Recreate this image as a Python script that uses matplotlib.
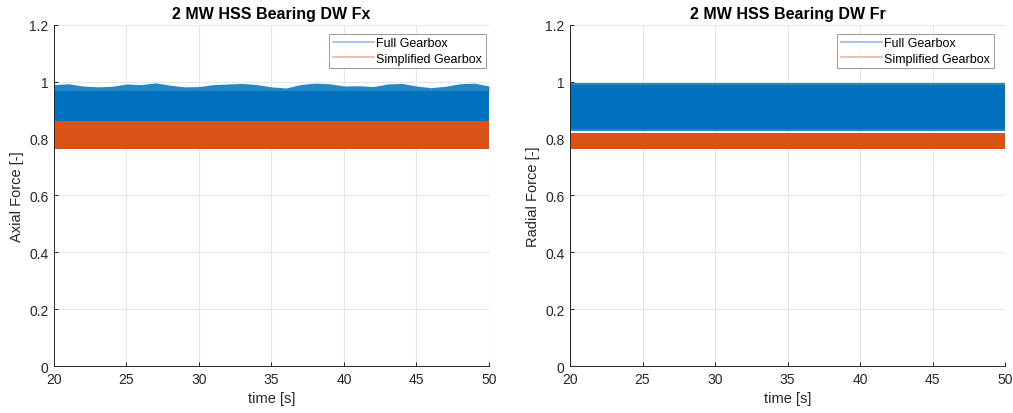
import matplotlib
matplotlib.use("Agg")
import matplotlib.pyplot as plt
from matplotlib.lines import Line2D

plt.rcParams['font.family'] = ['Liberation Sans', 'DejaVu Sans']

# envelope of the dense signals, read once per second
t_env = list(range(20, 51))

# left plot (axial force)
fx_full_peak = [0.990, 0.993, 0.985, 0.982, 0.984, 0.992, 0.990, 0.996, 0.988, 0.982,
                0.983, 0.990, 0.992, 0.994, 0.990, 0.982, 0.978, 0.990, 0.995, 0.993,
                0.985, 0.986, 0.983, 0.992, 0.994, 0.985, 0.979, 0.984, 0.993, 0.995, 0.985]
fx_full_solid = 0.968
fx_full_low = 0.862
fx_simp_high = 0.862
fx_simp_low = 0.762

# right plot (radial force)
fr_full_peak = 0.995
fr_full_solid = 0.988
fr_full_fuzz = 0.832
fr_full_low = 0.826
fr_simp_high = 0.821
fr_simp_low = 0.763

x_ticks = [20, 25, 30, 35, 40, 45, 50]
y_ticks = [0, 0.2, 0.4, 0.6, 0.8, 1.0, 1.2]

BLUE = '#0072BD'
ORANGE = '#D95319'
DARK = '#262626'

fig = plt.figure(figsize=(10.13, 4.14), dpi=100)
ax1 = fig.add_axes([0.0533, 0.1135, 0.4294, 0.824])
ax2 = fig.add_axes([0.5627, 0.1135, 0.4294, 0.824])


def style_axes(ax, title, ylabel, leg_x):
    ax.set_xlim(20, 50)
    ax.set_ylim(0, 1.2)
    ax.set_xticks(x_ticks)
    ax.set_yticks(y_ticks)
    ax.set_yticklabels(['%g' % v for v in y_ticks])
    ax.grid(True, color='#e6e6e6', linewidth=0.8)
    ax.set_axisbelow(True)
    for s in ['top', 'right']:
        ax.spines[s].set_visible(False)
    for s in ['left', 'bottom']:
        ax.spines[s].set_color(DARK)
        ax.spines[s].set_linewidth(0.7)
    ax.tick_params(direction='in', length=3, width=0.7, colors=DARK,
                   labelsize=10, pad=4)
    ax.set_title(title, fontsize=11.5, fontweight='bold', pad=5)
    ax.set_xlabel('time [s]', fontsize=10.5, color=DARK, labelpad=4)
    ax.set_ylabel(ylabel, fontsize=10.5, color=DARK, labelpad=4)
    handles = [Line2D([], [], color='#8fbfe2', lw=1.2),
               Line2D([], [], color='#ecb4a0', lw=1.2)]
    leg = ax.legend(handles, ['Full Gearbox', 'Simplified Gearbox'],
                    loc='upper right', bbox_to_anchor=(leg_x, 0.974),
                    fontsize=9, frameon=True, fancybox=False,
                    handlelength=3.3, handletextpad=0.2, borderpad=0.3,
                    labelspacing=0.25, borderaxespad=0)
    leg.get_frame().set_edgecolor('#7f7f7f')
    leg.get_frame().set_linewidth(0.7)


# left: Fx
ax1.fill_between(t_env, fx_full_low, fx_full_solid, color=BLUE, lw=0)
ax1.fill_between(t_env, fx_full_solid, fx_full_peak, color=BLUE, alpha=0.85, lw=0)
ax1.fill_between(t_env, fx_simp_low, fx_simp_high, color=ORANGE, lw=0)
style_axes(ax1, '2 MW HSS Bearing DW Fx', 'Axial Force [-]', 0.993)

# right: Fr
ax2.fill_between(t_env, fr_full_fuzz, fr_full_solid, color=BLUE, lw=0)
ax2.fill_between(t_env, fr_full_solid, fr_full_peak, color=BLUE, alpha=0.85, lw=0)
ax2.fill_between(t_env, fr_full_low, fr_full_fuzz, color=BLUE, alpha=0.85, lw=0)
ax2.fill_between(t_env, fr_simp_low, fr_simp_high, color=ORANGE, lw=0)
style_axes(ax2, '2 MW HSS Bearing DW Fr', 'Radial Force [-]', 0.975)

fig.savefig('out.png', dpi=100)
